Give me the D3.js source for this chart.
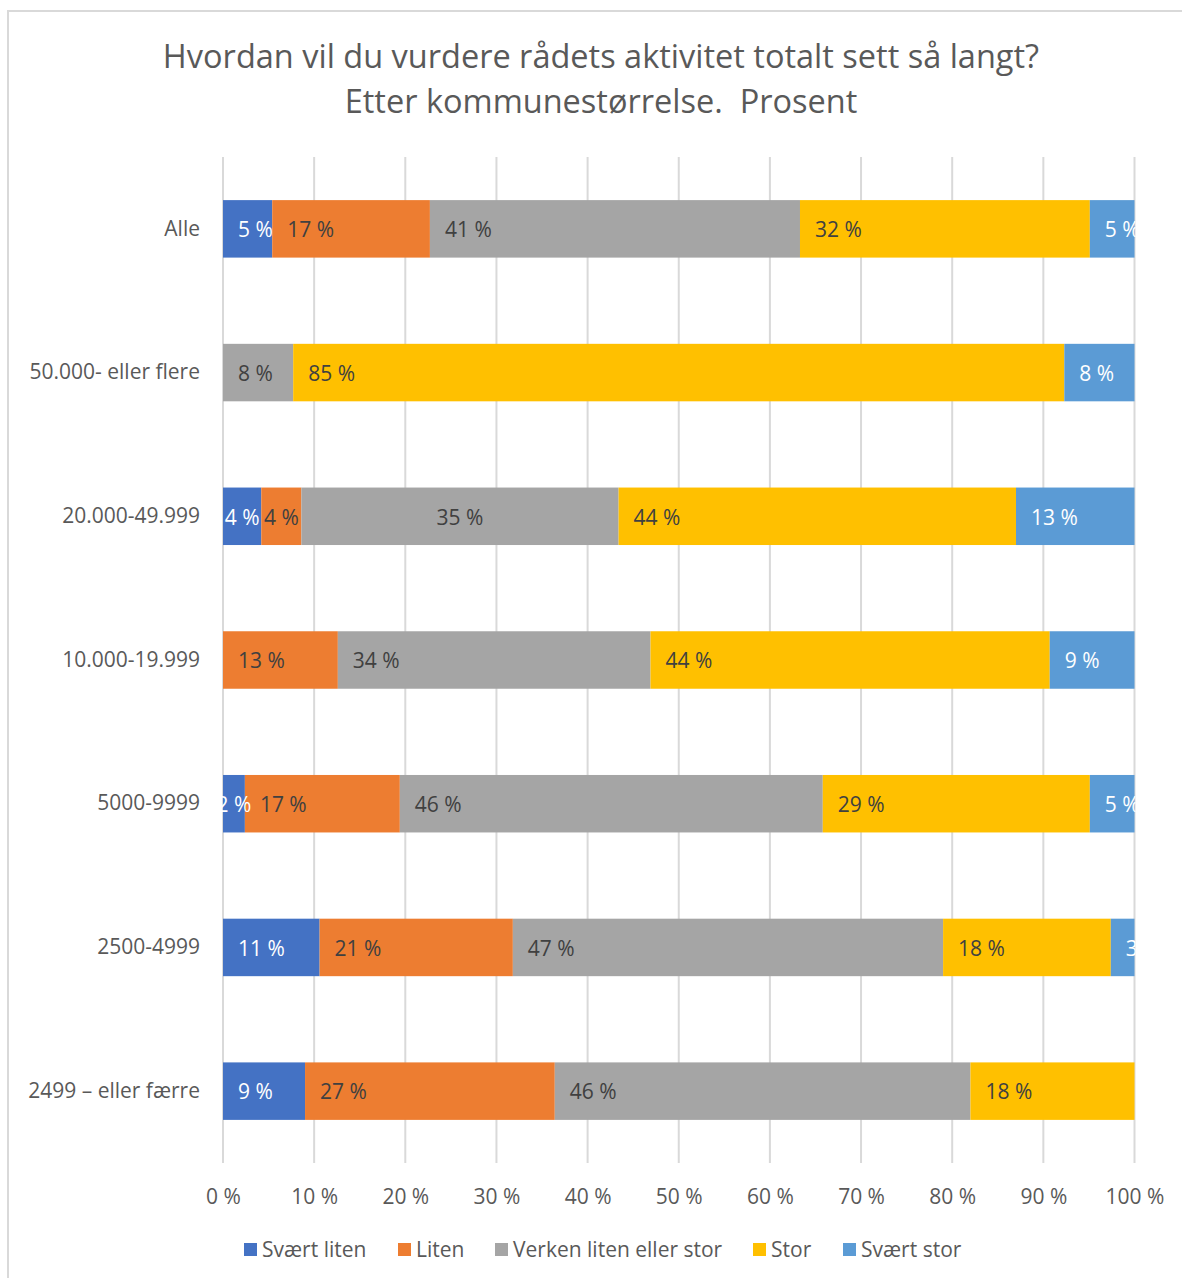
<!DOCTYPE html>
<html>
<head>
<meta charset="utf-8">
<script src="https://cdn.jsdelivr.net/npm/d3@7"></script>
<style>
  html, body { margin: 0; padding: 0; background: #fff; }
  svg { display: block; }
  text { font-family: "Open Sans", Lato, sans-serif; }
</style>
</head>
<body>
<svg id="chart" width="1182" height="1278"></svg>
<script>
// ---- data ----
const titleLines = ["Hvordan vil du vurdere rådets aktivitet totalt sett så langt?", "Etter kommunestørrelse.  Prosent"];
const categories = ["Alle", "50.000- eller flere", "20.000-49.999", "10.000-19.999", "5000-9999", "2500-4999", "2499 – eller færre"];
const seriesNames = ["Svært liten", "Liten", "Verken liten eller stor", "Stor", "Svært stor"];
const sværtLiten = [5.4, 0, 4.2, 0, 2.4, 10.6, 9.0];
const liten      = [17.3, 0, 4.4, 12.6, 17.0, 21.2, 27.4];
const verken     = [40.6, 7.7, 34.8, 34.3, 46.4, 47.2, 45.6];
const stor       = [31.8, 84.6, 43.6, 43.8, 29.3, 18.4, 18.0];
const sværtStor  = [4.9, 7.7, 13.0, 9.3, 4.9, 2.6, 0];
const tickValues = [0, 10, 20, 30, 40, 50, 60, 70, 80, 90, 100];

// ---- style ----
const colors = ["#4472C4", "#ED7D31", "#A5A5A5", "#FFC000", "#5B9BD5"];
const labelColors = ["#FFFFFF", "#404040", "#404040", "#404040", "#FFFFFF"];
const centeredLabels = [["20.000-49.999", 0], ["20.000-49.999", 1], ["20.000-49.999", 2], ["5000-9999", 0]];
const textGray = "#595959";

const seriesValues = [sværtLiten, liten, verken, stor, sværtStor];
const rows = categories.map((c, i) => {
  const r = { cat: c };
  seriesNames.forEach((s, j) => r[s] = seriesValues[j][i]);
  return r;
});
const stacked = d3.stack().keys(seriesNames)(rows);

const svg = d3.select("#chart");
const W = 1182, H = 1278;
const plot = { left: 223, right: 1134.5, top: 157, bottom: 1163 };

// chart border
svg.append("rect").attr("x", 8).attr("y", 11).attr("width", W).attr("height", H)
  .attr("fill", "#fff").attr("stroke", "#D9D9D9").attr("stroke-width", 2);

// title
const title = svg.append("text").attr("text-anchor", "middle").attr("fill", textGray)
  .style("font-size", "32.5px").style("white-space", "pre");
titleLines.forEach((t, i) => {
  title.append("tspan").attr("x", 601).attr("y", 68 + i * 45).text(t);
});

const x = d3.scaleLinear().domain([0, 100]).range([plot.left, plot.right]);
const y = d3.scaleBand().domain(categories).range([plot.top, plot.bottom])
  .paddingInner(0.6).paddingOuter(0.3);

// gridlines
svg.append("g").selectAll("line").data(tickValues).join("line")
  .attr("x1", d => x(d)).attr("x2", d => x(d))
  .attr("y1", plot.top).attr("y2", plot.bottom)
  .attr("stroke", "#D9D9D9").attr("stroke-width", 2);

// x axis labels
const xAxis = d3.axisBottom(x).tickValues(tickValues).tickSize(0).tickFormat(d => d + " %");
const gx = svg.append("g").attr("transform", `translate(0,${plot.bottom})`).call(xAxis);
gx.select(".domain").remove();
gx.selectAll("text").attr("fill", textGray).style("font-size", "21px")
  .attr("font-family", "'Open Sans', sans-serif").attr("dy", null).attr("y", 41);

// y axis labels
const yAxis = d3.axisLeft(y).tickSize(0).tickPadding(23);
const gy = svg.append("g").attr("transform", `translate(${plot.left},0)`).call(yAxis);
gy.select(".domain").remove();
gy.selectAll("text").attr("fill", textGray).style("font-size", "21px")
  .attr("font-family", "'Open Sans', sans-serif");

// bars
svg.append("defs").append("clipPath").attr("id", "plotclip")
  .append("rect").attr("x", plot.left - 1).attr("y", plot.top)
  .attr("width", plot.right - plot.left + 2).attr("height", plot.bottom - plot.top);

const barG = svg.append("g");
stacked.forEach((layer, j) => {
  barG.append("g").attr("fill", colors[j]).selectAll("rect")
    .data(layer.filter(d => d[1] - d[0] > 0)).join("rect")
    .attr("x", d => x(d[0])).attr("y", d => y(d.data.cat))
    .attr("width", d => x(d[1]) - x(d[0])).attr("height", y.bandwidth());
});

// data labels
const lblG = svg.append("g").attr("clip-path", "url(#plotclip)");
const fmt = d3.format(".0f");
stacked.forEach((layer, j) => {
  layer.filter(d => d[1] - d[0] > 0).forEach(d => {
    const centered = centeredLabels.some(c => c[0] === d.data.cat && c[1] === j);
    lblG.append("text")
      .attr("x", centered ? (x(d[0]) + x(d[1])) / 2 : x(d[0]) + 15)
      .attr("y", y(d.data.cat) + y.bandwidth() / 2 + 1)
      .attr("dy", "0.35em")
      .attr("text-anchor", centered ? "middle" : "start")
      .attr("fill", labelColors[j]).style("font-size", "21px")
      .text(fmt(d[1] - d[0]) + " %");
  });
});

// legend
const legendX = [244, 398, 495, 753, 843];
const lg = svg.append("g");
seriesNames.forEach((s, j) => {
  const g = lg.append("g").attr("transform", `translate(${legendX[j]},1243)`);
  g.append("rect").attr("width", 13).attr("height", 13).attr("fill", colors[j]);
  g.append("text").attr("x", 18).attr("y", 7).attr("dy", "0.35em")
    .attr("fill", textGray).style("font-size", "21px").text(s);
});
</script>
</body>
</html>
